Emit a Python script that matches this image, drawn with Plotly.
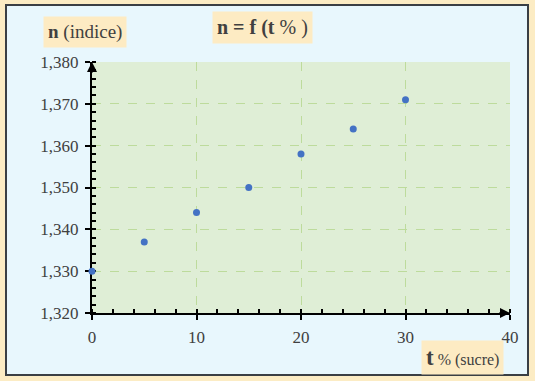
import plotly.graph_objects as go

t_pct = [0, 5, 10, 15, 20, 25, 30]
n_idx = [1.330, 1.337, 1.344, 1.350, 1.358, 1.364, 1.371]

x_ticks = [0, 10, 20, 30, 40]
y_ticks = [1.32, 1.33, 1.34, 1.35, 1.36, 1.37, 1.38]

SERIF = "'Liberation Serif', 'Times New Roman', Times, 'DejaVu Serif', serif"
W, H = 535, 381
L, R, T, B = 92, 25, 62, 68
PW, PH = W - L - R, H - T - B

def fx(xp):
    return (xp - L) / PW

def fy(yp):
    return (H - yp - B) / PH

fig = go.Figure()
fig.add_trace(go.Scatter(
    x=t_pct, y=n_idx, mode="markers",
    marker=dict(color="#4472c4", size=7),
    cliponaxis=False, showlegend=False,
))

# panel
fig.add_shape(type="rect", xref="paper", yref="paper",
              x0=fx(6), x1=fx(528), y0=fy(375), y1=fy(5),
              fillcolor="#e8f7fd", line=dict(color="#3a3f44", width=2), layer="below")
# plot area fill
fig.add_shape(type="rect", xref="paper", yref="paper",
              x0=0, x1=1, y0=0, y1=1,
              fillcolor="#dfeed6", line=dict(width=0), layer="below")

axis_common = dict(
    showline=True, linecolor="black", linewidth=2,
    ticks="outside", ticklen=5, tickwidth=2, tickcolor="black",
    showgrid=True, gridcolor="#bddb9c", griddash="dash", gridwidth=1,
    tickfont=dict(family=SERIF, size=17, color="#404040"),
    zeroline=False, fixedrange=True, ticklabelstandoff=3,
    layer="below traces",
)

fig.update_xaxes(range=[0, 40], tickvals=x_ticks, ticktext=[str(v) for v in x_ticks],
                 minor=dict(dtick=2, ticks="inside", ticklen=4, tickwidth=2,
                            tickcolor="black", showgrid=False),
                 **axis_common)
fig.update_yaxes(range=[1.32, 1.38], tickvals=y_ticks, tickformat=".3f",
                 minor=dict(dtick=0.002, ticks="inside", ticklen=4, tickwidth=2,
                            tickcolor="black", showgrid=False),
                 **axis_common)

# axis arrows
fig.add_annotation(x=40, y=1.32, xref="x", yref="y", ax=-12, ay=0, text="",
                   showarrow=True, arrowhead=2, arrowsize=1, arrowwidth=2, arrowcolor="black")
fig.add_annotation(x=0, y=1.38, xref="x", yref="y", ax=0, ay=12, text="",
                   showarrow=True, arrowhead=2, arrowsize=1, arrowwidth=2, arrowcolor="black")

label_bg = "#fdebc3"
fig.add_annotation(xref="paper", yref="paper", x=fx(85), y=fy(32),
                   text="<b>n</b> (indice)", showarrow=False, bgcolor=label_bg,
                   font=dict(family=SERIF, size=19, color="#404040"),
                   borderpad=4, xanchor="center", yanchor="middle")
fig.add_annotation(xref="paper", yref="paper", x=fx(262), y=fy(28),
                   text="<b>n = f (t</b> % )", showarrow=False, bgcolor=label_bg,
                   font=dict(family=SERIF, size=20, color="#404040"),
                   borderpad=4, xanchor="center", yanchor="middle")
fig.add_annotation(xref="paper", yref="paper", x=fx(462), y=fy(357),
                   text="<b><span style='font-size:23px'>t</span></b> % (sucre)", showarrow=False,
                   bgcolor=label_bg,
                   font=dict(family=SERIF, size=16, color="#404040"),
                   borderpad=4, xanchor="center", yanchor="middle")

fig.update_layout(
    width=W, height=H,
    margin=dict(l=L, r=R, t=T, b=B),
    paper_bgcolor="#fcecc4",
    plot_bgcolor="#dfeed6",
    separators=", ",
    showlegend=False,
    font=dict(family=SERIF),
)

fig.write_html("out.html", config={"displayModeBar": False},
               post_script="document.body.style.margin='0';")
